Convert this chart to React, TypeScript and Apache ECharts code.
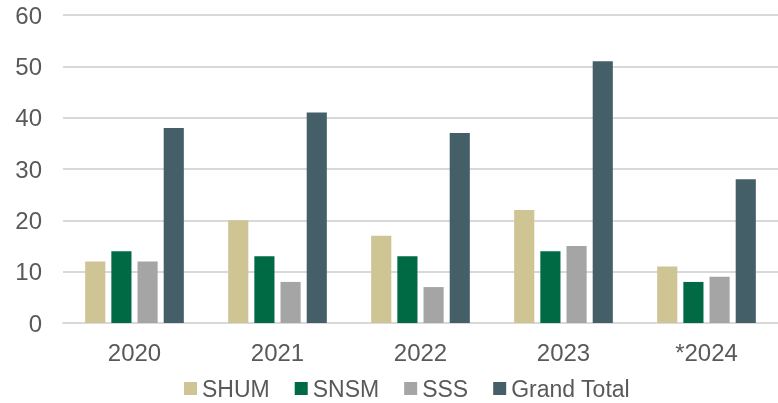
import React, { useEffect, useRef } from "react";
import * as echarts from "echarts";

const categories = ["2020", "2021", "2022", "2023", "*2024"];
const shum = [12, 20, 17, 22, 11];
const snsm = [14, 13, 13, 14, 8];
const sss = [12, 8, 7, 15, 9];
const grandTotal = [38, 41, 37, 51, 28];

const seriesNames = ["SHUM", "SNSM", "SSS", "Grand Total"];
const colors = ["#CFC493", "#006A45", "#A5A5A5", "#455F69"];

export default function App() {
  const ref = useRef<HTMLDivElement>(null);
  useEffect(() => {
    if (!ref.current) return;
    const chart = echarts.init(ref.current, null, { renderer: "svg" });
    const data = [shum, snsm, sss, grandTotal];
    chart.setOption({
      animation: false,
      textStyle: { fontFamily: "Liberation Sans, Arial, sans-serif" },
      grid: { left: 63, right: 0, top: 15, bottom: 80, containLabel: false },
      legend: {
        top: 377,
        left: 184,
        padding: 0,
        itemWidth: 13,
        itemHeight: 13,
        itemGap: 25,
        icon: "rect",
        textStyle: { fontSize: 23, lineHeight: 20, color: "#595959", fontFamily: "Liberation Sans, Arial, sans-serif" },
        data: seriesNames,
      },
      xAxis: {
        type: "category",
        data: categories,
        axisLine: { show: true, lineStyle: { color: "#D9D9D9", width: 2 } },
        axisTick: { show: false },
        axisLabel: { fontSize: 24, color: "#595959", margin: 17 },
      },
      yAxis: {
        type: "value",
        min: 0,
        max: 60,
        interval: 10,
        axisLine: { show: false },
        axisTick: { show: false },
        axisLabel: { fontSize: 24, color: "#595959", margin: 21 },
        splitLine: { lineStyle: { color: "#D9D9D9", width: 2 } },
      },
      series: seriesNames.map((name, i) => ({
        name,
        type: "bar",
        data: data[i],
        itemStyle: { color: colors[i] },
        barGap: "30%",
        barCategoryGap: "31%",
      })),
    });
    return () => chart.dispose();
  }, []);
  return <div ref={ref} style={{ position: "fixed", left: 0, top: 0, width: 778, height: 403 }} />;
}
